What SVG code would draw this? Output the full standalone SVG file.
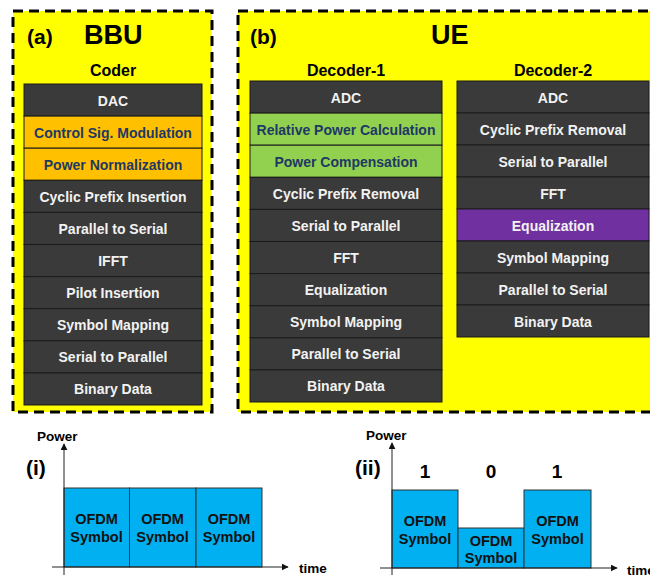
<svg xmlns="http://www.w3.org/2000/svg" width="650" height="577" viewBox="0 0 650 577">
  <defs>
    <marker id="arrow" viewBox="0 0 10 10" refX="9" refY="5" markerWidth="7" markerHeight="7" markerUnits="userSpaceOnUse" orient="auto">
      <path d="M0,0 L10,5 L0,10 z" fill="#111"/>
    </marker>
  </defs>
  <style>
    text { font-family: "Liberation Sans", Arial, sans-serif; font-weight: bold; }
    .panel { fill: #FFFF00; stroke: #000; stroke-width: 3; stroke-dasharray: 10 6; }
    .blk { stroke: #1a1a1a; stroke-width: 1; }
    .dark { fill: #3A3A3A; }
    .orange { fill: #FFC000; }
    .green { fill: #92D050; }
    .purple { fill: #7030A0; }
    .lbl { font-size: 14px; fill: #F2F2F2; text-anchor: middle; }
    .lbl-navy { font-size: 14px; fill: #1F3864; text-anchor: middle; }
    .head { font-size: 16px; fill: #000; text-anchor: middle; }
    .big { font-size: 27px; fill: #000; }
    .tag { font-size: 21px; fill: #000; }
    .axis { stroke: #222; stroke-width: 1; fill: none; }
    .bar { fill: #00B0F0; stroke: #333; stroke-width: 1; }
    .sym { font-size: 14.5px; fill: #111; text-anchor: middle; }
    .ax-lbl { font-size: 13.5px; fill: #000; }
    .bit { font-size: 19px; fill: #000; text-anchor: middle; }
  </style>

  <!-- (a) BBU panel -->
  <g id="bbu">
    <rect class="panel" x="13" y="11" width="199" height="401"/>
    <text class="tag" x="27" y="44">(a)</text>
    <text class="big" x="84" y="44">BBU</text>
    <text class="head" x="113" y="76">Coder</text>
  </g>

  <g id="coder">
    <g id="c-dac"><rect class="blk dark" x="24" y="84" width="178" height="32.1"/><text class="lbl" x="113" y="105.5">DAC</text></g>
    <g id="c-csm"><rect class="blk orange" x="24" y="116.1" width="178" height="32.1"/><text class="lbl-navy" x="113" y="137.6">Control Sig. Modulation</text></g>
    <g id="c-pn"><rect class="blk orange" x="24" y="148.2" width="178" height="32.1"/><text class="lbl-navy" x="113" y="169.7">Power Normalization</text></g>
    <g id="c-cpi"><rect class="blk dark" x="24" y="180.3" width="178" height="32.1"/><text class="lbl" x="113" y="201.8">Cyclic Prefix Insertion</text></g>
    <g id="c-p2s"><rect class="blk dark" x="24" y="212.4" width="178" height="32.1"/><text class="lbl" x="113" y="233.9">Parallel to Serial</text></g>
    <g id="c-ifft"><rect class="blk dark" x="24" y="244.5" width="178" height="32.1"/><text class="lbl" x="113" y="266">IFFT</text></g>
    <g id="c-pilot"><rect class="blk dark" x="24" y="276.6" width="178" height="32.1"/><text class="lbl" x="113" y="298.1">Pilot Insertion</text></g>
    <g id="c-sm"><rect class="blk dark" x="24" y="308.7" width="178" height="32.1"/><text class="lbl" x="113" y="330.2">Symbol Mapping</text></g>
    <g id="c-s2p"><rect class="blk dark" x="24" y="340.8" width="178" height="32.1"/><text class="lbl" x="113" y="362.3">Serial to Parallel</text></g>
    <g id="c-bin"><rect class="blk dark" x="24" y="372.9" width="178" height="32.1"/><text class="lbl" x="113" y="394.4">Binary Data</text></g>
  </g>

  <!-- (b) UE panel -->
  <g id="ue">
    <rect class="panel" x="238" y="11" width="430" height="401"/>
    <text class="tag" x="250" y="44">(b)</text>
    <text class="big" x="431" y="44">UE</text>
    <text class="head" x="346" y="76">Decoder-1</text>
    <text class="head" x="553" y="76">Decoder-2</text>
  </g>

  <g id="decoder1">
    <g id="d1-adc"><rect class="blk dark" x="250" y="81" width="192" height="32.1"/><text class="lbl" x="346" y="102.5">ADC</text></g>
    <g id="d1-rpc"><rect class="blk green" x="250" y="113.1" width="192" height="32.1"/><text class="lbl-navy" x="346" y="134.6">Relative Power Calculation</text></g>
    <g id="d1-pc"><rect class="blk green" x="250" y="145.2" width="192" height="32.1"/><text class="lbl-navy" x="346" y="166.7">Power Compensation</text></g>
    <g id="d1-cpr"><rect class="blk dark" x="250" y="177.3" width="192" height="32.1"/><text class="lbl" x="346" y="198.8">Cyclic Prefix Removal</text></g>
    <g id="d1-s2p"><rect class="blk dark" x="250" y="209.4" width="192" height="32.1"/><text class="lbl" x="346" y="230.9">Serial to Parallel</text></g>
    <g id="d1-fft"><rect class="blk dark" x="250" y="241.5" width="192" height="32.1"/><text class="lbl" x="346" y="263">FFT</text></g>
    <g id="d1-eq"><rect class="blk dark" x="250" y="273.6" width="192" height="32.1"/><text class="lbl" x="346" y="295.1">Equalization</text></g>
    <g id="d1-sm"><rect class="blk dark" x="250" y="305.7" width="192" height="32.1"/><text class="lbl" x="346" y="327.2">Symbol Mapping</text></g>
    <g id="d1-p2s"><rect class="blk dark" x="250" y="337.8" width="192" height="32.1"/><text class="lbl" x="346" y="359.3">Parallel to Serial</text></g>
    <g id="d1-bin"><rect class="blk dark" x="250" y="369.9" width="192" height="32.1"/><text class="lbl" x="346" y="391.4">Binary Data</text></g>
  </g>

  <g id="decoder2">
    <g id="d2-adc"><rect class="blk dark" x="457" y="81" width="192" height="32"/><text class="lbl" x="553" y="102.5">ADC</text></g>
    <g id="d2-cpr"><rect class="blk dark" x="457" y="113" width="192" height="32"/><text class="lbl" x="553" y="134.5">Cyclic Prefix Removal</text></g>
    <g id="d2-s2p"><rect class="blk dark" x="457" y="145" width="192" height="32"/><text class="lbl" x="553" y="166.5">Serial to Parallel</text></g>
    <g id="d2-fft"><rect class="blk dark" x="457" y="177" width="192" height="32"/><text class="lbl" x="553" y="198.5">FFT</text></g>
    <g id="d2-eq"><rect class="blk purple" x="457" y="209" width="192" height="32"/><text class="lbl" x="553" y="230.5">Equalization</text></g>
    <g id="d2-sm"><rect class="blk dark" x="457" y="241" width="192" height="32"/><text class="lbl" x="553" y="262.5">Symbol Mapping</text></g>
    <g id="d2-p2s"><rect class="blk dark" x="457" y="273" width="192" height="32"/><text class="lbl" x="553" y="294.5">Parallel to Serial</text></g>
    <g id="d2-bin"><rect class="blk dark" x="457" y="305" width="192" height="32"/><text class="lbl" x="553" y="326.5">Binary Data</text></g>
  </g>

  <!-- (i) constant-power OFDM symbols -->
  <g id="plot-i">
    <rect class="bar" x="64" y="488" width="65.5" height="79"/>
    <rect class="bar" x="129.5" y="488" width="66.5" height="79"/>
    <rect class="bar" x="196" y="488" width="66" height="79"/>
    <text class="sym" x="96.5" y="524">OFDM</text><text class="sym" x="96.5" y="542">Symbol</text>
    <text class="sym" x="162.5" y="524">OFDM</text><text class="sym" x="162.5" y="542">Symbol</text>
    <text class="sym" x="229" y="524">OFDM</text><text class="sym" x="229" y="542">Symbol</text>
    <text class="ax-lbl" x="37" y="441">Power</text>
    <text class="tag" x="26" y="475">(i)</text>
    <text class="ax-lbl" x="299" y="573">time</text>
  </g>

  <!-- (ii) power-modulated OFDM symbols -->
  <g id="plot-ii">
    <rect class="bar" x="392" y="490" width="66" height="78"/>
    <rect class="bar" x="458" y="528" width="66" height="40"/>
    <rect class="bar" x="524" y="490" width="67" height="78"/>
    <text class="sym" x="425" y="526">OFDM</text><text class="sym" x="425" y="544">Symbol</text>
    <text class="sym" x="491" y="546">OFDM</text><text class="sym" x="491" y="563">Symbol</text>
    <text class="sym" x="557.5" y="526">OFDM</text><text class="sym" x="557.5" y="544">Symbol</text>
    <text class="bit" x="425" y="478">1</text>
    <text class="bit" x="491" y="478">0</text>
    <text class="bit" x="557" y="478">1</text>
    <text class="ax-lbl" x="366" y="440">Power</text>
    <text class="tag" x="355" y="475">(ii)</text>
    <text class="ax-lbl" x="627" y="575">time</text>
  </g>

  <!-- axes -->
  <g id="connectors">
    <line class="axis" x1="64" y1="575" x2="64" y2="444" marker-end="url(#arrow)"/>
    <line class="axis" x1="52" y1="567" x2="288" y2="567" marker-end="url(#arrow)"/>
    <line class="axis" x1="392" y1="575" x2="392" y2="443" marker-end="url(#arrow)"/>
    <line class="axis" x1="380" y1="568" x2="617" y2="568" marker-end="url(#arrow)"/>
  </g>
</svg>
